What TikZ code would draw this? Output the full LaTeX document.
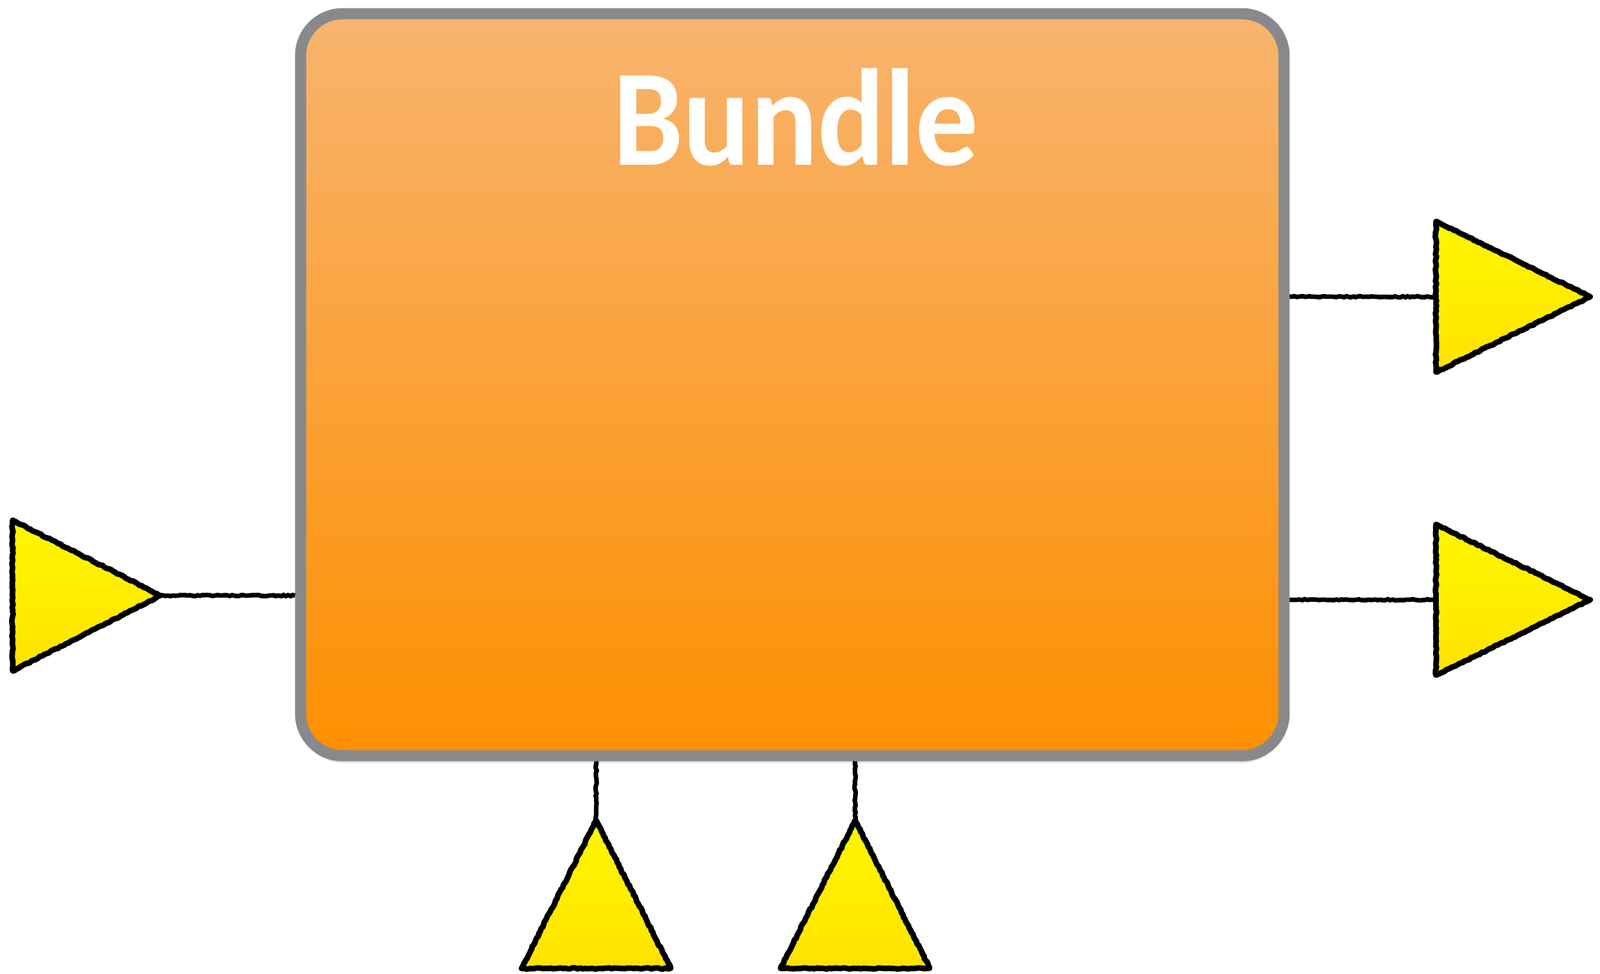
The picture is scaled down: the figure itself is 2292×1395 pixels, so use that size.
\documentclass[tikz,border=0pt]{standalone}
\usepackage{fontspec}
\setmainfont{Carlito}
\usetikzlibrary{positioning, decorations.pathmorphing, shadows}
\definecolor{bundleTop}{HTML}{F8B46E}
\definecolor{bundleBottom}{HTML}{FE8F00}
\definecolor{bundleBorder}{HTML}{87898D}
\definecolor{portTop}{HTML}{FFF700}
\definecolor{portBottom}{HTML}{FFE200}
\tikzstyle{pixels} = [x = 0.01cm, y = -0.01cm]
\tikzstyle{sketchy} = [decorate, decoration={random steps, segment length=1pt, amplitude=0.25pt}]
\tikzstyle{bundleStyle} = [rectangle, rounded corners = .6cm, draw=bundleBorder, line width=.16cm, top color=bundleTop, bottom color=bundleBottom, drop shadow={opacity=0.2, shadow xshift=0pt, shadow yshift=-3pt}]
\tikzstyle{bundleText} = [text=white, font=\fontsize{51}{60}\selectfont\bfseries, anchor=base]
\tikzstyle{portStyle} = [draw=black, line width=.08cm, top color=portTop, bottom color=portBottom, line join=round, sketchy]
\tikzstyle{wire} = [draw=black, line width=.065cm, sketchy]
\newcommand{\eastPort}[4]{\filldraw [portStyle] (#2, #3 - 108) -- (#2 + #4, #3) coordinate (#1Tip) -- (#2, #3 + 108) -- cycle; \coordinate (#1) at (#2, #3);}
\newcommand{\northPort}[4]{\filldraw [portStyle] (#2, #3) coordinate (#1) -- (#2 + 107, #3 + #4) -- (#2 - 107, #3 + #4) -- cycle;}

\begin{document}
\begin{tikzpicture}[pixels]
    \useasboundingbox (0,0) rectangle (2292,1395);
    \node [bundleStyle, minimum width=14.08cm, minimum height=10.62cm] (bundle) at (1135,551) {};
    \node [bundleText] (bundleLabel) at (1140,237) {\scalebox{1}[1.1]{Bundle}};
    % ports
    \eastPort{inPort}{18}{853}{212}
    \eastPort{outPortA}{2057}{425}{221}
    \eastPort{outPortB}{2057}{859}{221}
    \northPort{ctrlA}{854}{1175}{212}
    \northPort{ctrlB}{1225}{1175}{212}
    % wires
    \draw [wire] (inPortTip) -- (inPortTip -| bundle.west);
    \draw [wire] (outPortA -| bundle.east) -- (outPortA);
    \draw [wire] (outPortB -| bundle.east) -- (outPortB);
    \draw [wire] (ctrlA |- bundle.south) -- (ctrlA);
    \draw [wire] (ctrlB |- bundle.south) -- (ctrlB);
\end{tikzpicture}
\end{document}
